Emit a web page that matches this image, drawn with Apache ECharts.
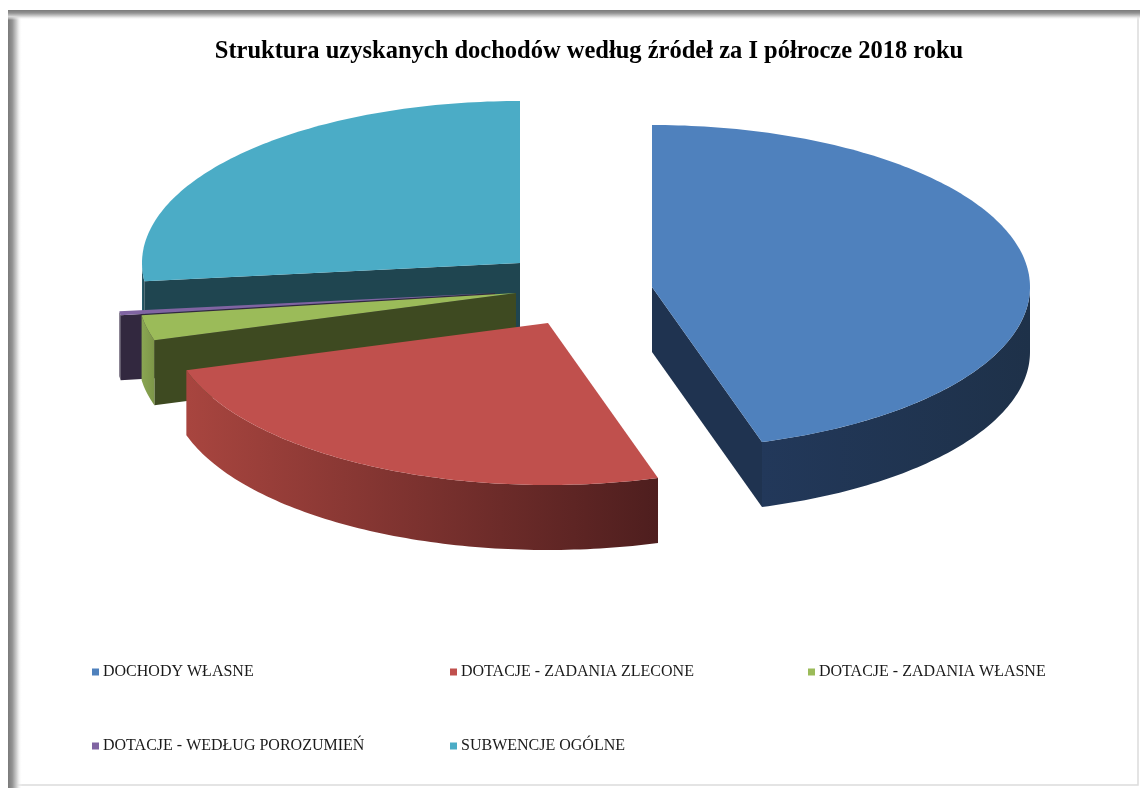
<!DOCTYPE html>
<html>
<head>
<meta charset="utf-8">
<script src="https://cdn.jsdelivr.net/npm/echarts@6/dist/echarts.min.js"></script>
<style>
html, body { margin: 0; padding: 0; background: #fff; }
#chart { width: 1140px; height: 788px; }
</style>
</head>
<body>
<div id="chart"></div>
<script>
// data (share of revenue, %)
const categories = ['DOCHODY WŁASNE', 'DOTACJE - ZADANIA ZLECONE', 'DOTACJE - ZADANIA WŁASNE', 'DOTACJE - WEDŁUG POROZUMIEŃ', 'SUBWENCJE OGÓLNE']
const shares = [45.3, 25.0, 2.5, 0.4, 26.8]

// look of the 3d slices
const topColors = ['#4f81bd', '#c0504d', '#9bbb59', '#8064a2', '#4bacc6']
const faceColors = ['#1f3350', '#5a2020', '#3e4a21', '#32283f', '#1f4550']
const sideColors = [['#22385a', '#1e3149'], ['#a8453f', '#4e1e1e'], ['#8aa653', '#7d9648'], ['#3a2e48', '#32283f'], ['#2a6272', '#1f4550']]
const explode = [[127, 2], [23, 38], [-9, 8], [-30, 8], [-5, -22]]
const legendPos = [[92, 664], [450, 664], [808, 664], [92, 738], [450, 738]]
const cx = 525
const cy = 285
const rx = 378
const ry = 162
const depth = 65

const total = shares.reduce((a, b) => a + b, 0)
const startAngles = []
let acc = 0
shares.forEach(v => { startAngles.push(acc / total * 360); acc += v })

// draw order: back slices first
const midCos = shares.map((v, i) => -Math.cos((startAngles[i] + v / total * 180) * Math.PI / 180))
const order = midCos.map(c => midCos.filter(o => o < c).length)

function pt (ox, oy, deg, dz) {
  const r = deg * Math.PI / 180
  return [ox + rx * Math.sin(r), oy - ry * Math.cos(r) + (dz || 0)]
}

function arc (ox, oy, a0, a1, dz) {
  const pts = []
  const n = Math.max(2, Math.ceil(a1 - a0))
  for (let k = 0; k <= n; k++) pts.push(pt(ox, oy, a0 + (a1 - a0) * k / n, dz))
  return pts
}

function renderSlice (idx) {
  return function (params, api) {
    const a0 = startAngles[idx]
    const a1 = a0 + api.value(0) / total * 360
    const ox = cx + explode[idx][0]
    const oy = cy + explode[idx][1]
    const children = []
    // radial faces, only those facing the viewer
    const faces = []
    if (Math.cos((a0 - 90) * Math.PI / 180) < -0.01) faces.push(a0)
    if (Math.cos((a1 + 90) * Math.PI / 180) < -0.01) faces.push(a1)
    faces.forEach(a => {
      const p = pt(ox, oy, a)
      children.push({
        type: 'polygon',
        z2: 1,
        shape: { points: [[ox, oy], p, [p[0], p[1] + depth], [ox, oy + depth]] },
        style: { fill: faceColors[idx] }
      })
    })
    // outer curved side, front half only
    const s0 = Math.max(a0, 90)
    const s1 = Math.min(a1, 270)
    if (s1 > s0) {
      const top = arc(ox, oy, s0, s1)
      const bottom = arc(ox, oy, s0, s1, depth).reverse()
      children.push({
        type: 'polygon',
        z2: 2,
        shape: { points: top.concat(bottom) },
        style: {
          fill: new echarts.graphic.LinearGradient(1, 0, 0, 0, [
            { offset: 0, color: sideColors[idx][1] },
            { offset: 1, color: sideColors[idx][0] }
          ])
        }
      })
    }
    // top face
    children.push({
      type: 'polygon',
      z2: 5,
      shape: { points: [[ox, oy]].concat(arc(ox, oy, a0, a1)) },
      style: { fill: topColors[idx] }
    })
    return { type: 'group', children: children }
  }
}

const frameShadow = (x0, y0, x1, y1) => new echarts.graphic.LinearGradient(x0, y0, x1, y1, [
  { offset: 0, color: '#7a7a7a' },
  { offset: 0.3, color: '#929292' },
  { offset: 0.65, color: '#d6d6d6' },
  { offset: 1, color: 'rgba(255,255,255,0)' }
])

let mychart = echarts.init(document.getElementById('chart'))
let options = {
  animation: false,
  backgroundColor: '#fff',
  title: {
    text: 'Struktura uzyskanych dochodów według źródeł za I półrocze 2018 roku',
    left: 584,
    top: 34,
    textAlign: 'center',
    textStyle: {
      fontFamily: 'Liberation Serif',
      fontSize: 24.5,
      fontWeight: 'bold',
      color: '#000'
    }
  },
  legend: categories.map((name, i) => ({
    data: [name],
    left: legendPos[i][0],
    top: legendPos[i][1],
    padding: 0,
    icon: 'rect',
    itemWidth: 7,
    itemHeight: 7,
    itemGap: 5,
    selectedMode: false,
    textStyle: { fontFamily: 'Liberation Serif', fontSize: 16, color: '#1a1a1a', padding: [0, 0, 0, -1] }
  })),
  graphic: [
    { type: 'rect', silent: true, shape: { x: 9, y: 11, width: 1129, height: 774 }, style: { fill: 'none', stroke: '#dcdcdc', lineWidth: 1.5 } },
    { type: 'rect', silent: true, shape: { x: 8, y: 10, width: 14, height: 778 }, style: { fill: frameShadow(0, 0, 1, 0) } },
    { type: 'rect', silent: true, shape: { x: 8, y: 10, width: 1132, height: 10 }, style: { fill: frameShadow(0, 0, 0, 1) } }
  ],
  series: categories.map((name, i) => ({
    name: name,
    type: 'custom',
    coordinateSystem: 'none',
    z: 2 + order[i],
    itemStyle: { color: topColors[i] },
    renderItem: renderSlice(i),
    data: [[shares[i]]]
  }))
}
mychart.setOption(options)
</script>
</body>
</html>
